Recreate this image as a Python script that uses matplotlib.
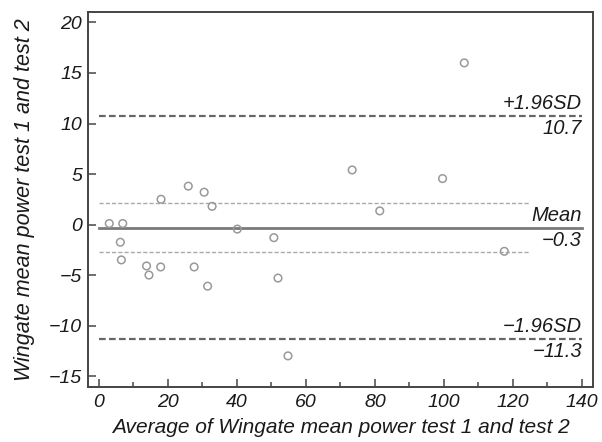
import matplotlib
matplotlib.use("Agg")
from matplotlib import pyplot as plt
from matplotlib.ticker import MultipleLocator

plt.rcParams['font.family'] = ['Liberation Sans', 'DejaVu Sans']
plt.rcParams['font.style'] = 'italic'

# Bland-Altman data: average (x) and difference (y)
avg = [3.0, 6.9, 6.2, 6.5, 13.8, 14.5, 17.9, 18.0, 25.9, 30.5, 32.8,
       27.6, 31.5, 40.1, 50.7, 51.9, 54.8, 73.4, 81.4, 99.6, 105.9, 117.5]
diff = [0.1, 0.1, -1.75, -3.5, -4.1, -5.0, -4.2, 2.5, 3.8, 3.2, 1.8,
        -4.2, -6.1, -0.45, -1.3, -5.3, -13.0, 5.4, 1.35, 4.55, 16.0, -2.65]

mean_diff = -0.3
upper_loa = 10.7
lower_loa = -11.3
ci_lines = [2.1, -2.7]

xticks = [0, 20, 40, 60, 80, 100, 120, 140]
yticks = [-15, -10, -5, 0, 5, 10, 15, 20]

fig = plt.figure(figsize=(6.02, 4.42), dpi=100)
ax = fig.add_axes([0.146, 0.124, 0.839, 0.848])

# limits of agreement and mean
ax.plot([0, 140], [upper_loa, upper_loa], ls=(0, (3, 1.5)), color='#666666', lw=1.6)
ax.plot([0, 140], [lower_loa, lower_loa], ls=(0, (3, 1.5)), color='#666666', lw=1.6)
ax.plot([0, 140], [mean_diff, mean_diff], ls='-', color='#7a7a7a', lw=2.0)
for c in ci_lines:
    ax.plot([0, 125], [c, c], ls=(0, (3, 1.5)), color='#aaaaaa', lw=1.0)

ax.scatter(avg, diff, s=30, facecolors='none', edgecolors='#999999',
           linewidths=1.1, zorder=3)

# line labels
fs = 14.5
tc = '#1a1a1a'
ax.text(140, upper_loa + 0.3, '+1.96SD', ha='right', va='bottom', fontsize=fs, color=tc)
ax.text(140, upper_loa - 0.3, '10.7', ha='right', va='top', fontsize=fs, color=tc)
ax.text(140, mean_diff + 0.3, 'Mean', ha='right', va='bottom', fontsize=fs, color=tc)
ax.text(140, mean_diff - 0.3, '\u22120.3', ha='right', va='top', fontsize=fs, color=tc)
ax.text(140, lower_loa + 0.3, '\u22121.96SD', ha='right', va='bottom', fontsize=fs, color=tc)
ax.text(140, lower_loa - 0.3, '\u221211.3', ha='right', va='top', fontsize=fs, color=tc)

ax.set_xlim(-3.2, 143.2)
ax.set_ylim(-16.1, 21.0)
ax.set_xticks(xticks)
ax.set_yticks(yticks)
ax.xaxis.set_minor_locator(MultipleLocator(10))

ax.tick_params(axis='both', which='major', direction='in', length=6, width=1.2,
               color='#555555', labelsize=14, labelcolor=tc)
ax.tick_params(axis='x', which='minor', direction='in', length=3.5, width=1.2,
               color='#555555')
ax.tick_params(axis='x', pad=5)
ax.tick_params(axis='y', pad=4)
for lab in ax.get_xticklabels() + ax.get_yticklabels():
    lab.set_style('italic')

for sp in ax.spines.values():
    sp.set_color('#444444')
    sp.set_linewidth(1.4)

ax.set_xlabel('Average of Wingate mean power test 1 and test 2', fontsize=15,
              color=tc, labelpad=5)
ax.set_ylabel('Wingate mean power test 1 and test 2', fontsize=15.5,
              color=tc, labelpad=10)

fig.savefig('out.png', dpi=100)
